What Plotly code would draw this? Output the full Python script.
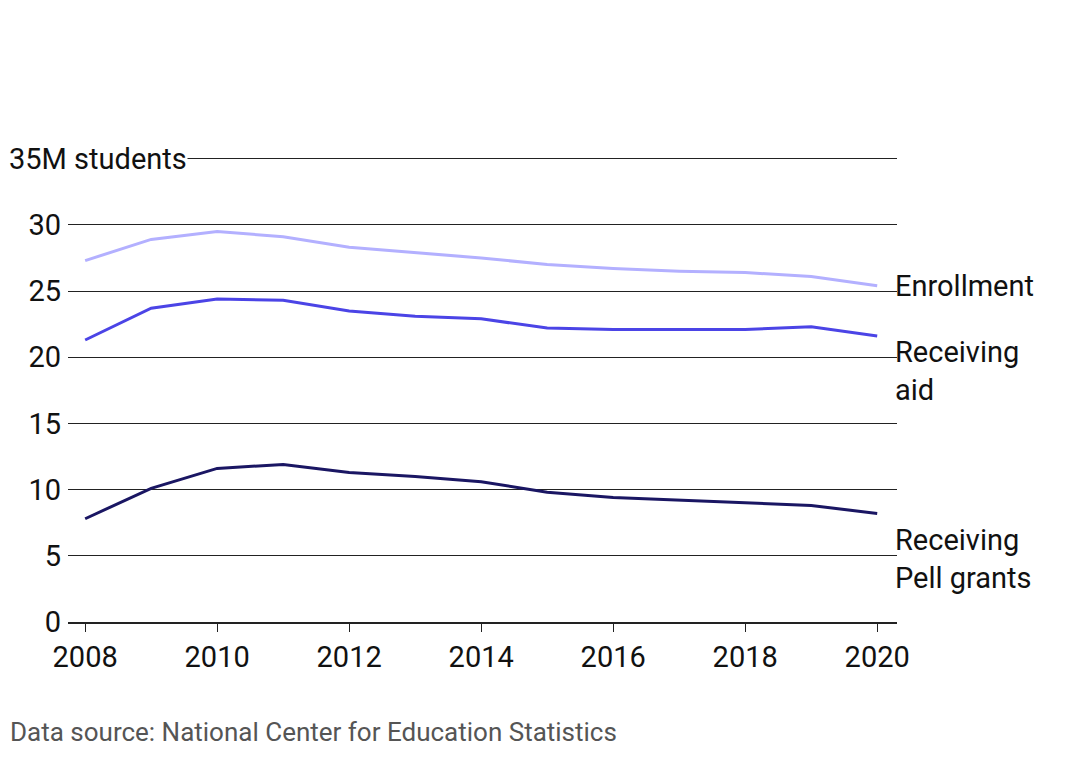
import plotly.graph_objects as go

years = list(range(2008, 2021))
enrollment = [27.3, 28.9, 29.5, 29.1, 28.3, 27.9, 27.5, 27.0, 26.7, 26.5, 26.4, 26.1, 25.4]
receiving_aid = [21.3, 23.7, 24.4, 24.3, 23.5, 23.1, 22.9, 22.2, 22.1, 22.1, 22.1, 22.3, 21.6]
pell = [7.8, 10.1, 11.6, 11.9, 11.3, 11.0, 10.6, 9.8, 9.4, 9.2, 9.0, 8.8, 8.2]
series = [("Enrollment", enrollment, "#b3b0ff", "Enrollment", "middle", 0),
          ("Receiving aid", receiving_aid, "#4b44e6", "Receiving<br>aid", "top", 3),
          ("Receiving Pell grants", pell, "#1a1663", "Receiving<br>Pell grants", "top", -8)]
yticks = [0, 5, 10, 15, 20, 25, 30, 35]
yticklabels = ["0", "5", "10", "15", "20", "25", "30", ""]

F = "Roboto"
fig = go.Figure()
for name, vals, col, lab, ya, ys in series:
    fig.add_trace(go.Scatter(x=years, y=vals, mode="lines", name=name,
                             line=dict(color=col, width=3)))
    fig.add_annotation(x=years[-1], y=vals[-1], text=lab, showarrow=False,
                       xanchor="left", yanchor=ya, xshift=16, yshift=ys, align="left",
                       font=dict(family=F, size=29, color="#111"))

fig.add_annotation(xref="paper", yref="y", x=-0.072, y=35, text="35M students",
                   showarrow=False, xanchor="left", yanchor="middle", borderpad=0,
                   bgcolor="white", font=dict(family=F, size=29, color="#111"))
fig.add_annotation(xref="paper", yref="paper", x=-0.072, y=1.335, xanchor="left", yanchor="bottom",
                   text="<b>Fewer students are receiving Pell Grants in aid<br>packages</b>",
                   showarrow=False, align="left",
                   font=dict(family=F, size=41, color="#000"))
fig.add_annotation(xref="paper", yref="paper", x=-0.072, y=-0.2, xanchor="left", yanchor="top",
                   text="Data source: National Center for Education Statistics", showarrow=False,
                   font=dict(family=F, size=26, color="#555"))

fig.update_layout(
    width=1064, height=754, plot_bgcolor="white", paper_bgcolor="white",
    showlegend=False, margin=dict(l=60, r=175, t=148, b=140),
)
fig.update_xaxes(range=[2007.74, 2020.3], tickvals=list(range(2008, 2021, 2)),
                 showgrid=False, showline=True, linecolor="#222", linewidth=1.5,
                 ticks="outside", ticklen=8, tickcolor="#222",
                 tickfont=dict(family=F, size=29, color="#111"), zeroline=False)
fig.update_yaxes(range=[0, 35.2], tickvals=yticks, ticktext=yticklabels,
                 showgrid=True, gridcolor="#222", gridwidth=1, zeroline=False,
                 tickfont=dict(family=F, size=29, color="#111"), ticklabelstandoff=6)
fig.write_html("out.html")
